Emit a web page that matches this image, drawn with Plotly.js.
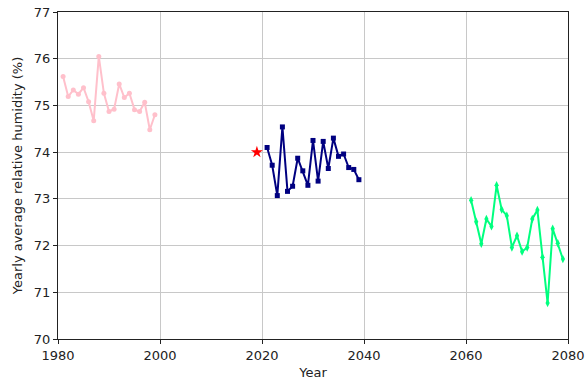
<!DOCTYPE html>
<html>
<head>
<meta charset="utf-8">
<script src="https://cdn.plot.ly/plotly-3.0.1.min.js"></script>
<style>html,body{margin:0;padding:0;background:#fff;}#chart{width:588px;height:385px;}</style>
</head>
<body>
<div id="chart"></div>
<script>
const yearsPast = [1981,1982,1983,1984,1985,1986,1987,1988,1989,1990,1991,1992,1993,1994,1995,1996,1997,1998,1999];
const humPast = [75.62,75.19,75.33,75.24,75.38,75.08,74.67,76.05,75.26,74.87,74.92,75.46,75.17,75.26,74.91,74.87,75.07,74.48,74.80];
const yearsNear = [2021,2022,2023,2024,2025,2026,2027,2028,2029,2030,2031,2032,2033,2034,2035,2036,2037,2038,2039];
const humNear = [74.10,73.72,73.07,74.54,73.16,73.27,73.87,73.60,73.29,74.25,73.38,74.23,73.65,74.30,73.91,73.96,73.67,73.63,73.41];
const yearsFar = [2061,2062,2063,2064,2065,2066,2067,2068,2069,2070,2071,2072,2073,2074,2075,2076,2077,2078,2079];
const humFar = [72.97,72.51,72.04,72.57,72.41,73.29,72.77,72.64,71.96,72.21,71.87,71.96,72.57,72.76,71.75,70.77,72.36,72.05,71.71];
const yearNow = [2019];
const humNow = [74.0];

const traces = [
  {x: yearsPast, y: humPast, mode: 'lines+markers', line: {color: '#ffc0cb', width: 2}, marker: {symbol: 'circle', size: 5, color: '#ffc0cb'}},
  {x: yearsNear, y: humNear, mode: 'lines+markers', line: {color: '#000080', width: 2}, marker: {symbol: 'square', size: 5, color: '#000080'}},
  {x: yearsFar, y: humFar, mode: 'lines+markers', line: {color: '#00ff7f', width: 2}, marker: {symbol: 'diamond-tall', size: 6, color: '#00ff7f'}},
  {x: yearNow, y: humNow, mode: 'markers', marker: {symbol: 'star', size: 9, color: '#ff0000'}}
];

const font = {family: 'DejaVu Sans', size: 13, color: '#222'};
const layout = {
  width: 588, height: 385,
  margin: {l: 58, r: 20, t: 12, b: 46},
  showlegend: false,
  paper_bgcolor: '#fff', plot_bgcolor: '#fff',
  font: font,
  xaxis: {
    range: [1980, 2080], tickvals: [1980,2000,2020,2040,2060,2080],
    showgrid: true, gridcolor: '#c8c8c8', gridwidth: 1,
    showline: true, linecolor: '#222', linewidth: 1, mirror: true,
    ticks: 'outside', ticklen: 4, tickcolor: '#222',
    zeroline: false,
    title: {text: 'Year', font: font, standoff: 6}
  },
  yaxis: {
    range: [70, 77], tickvals: [70,71,72,73,74,75,76,77],
    showgrid: true, gridcolor: '#c8c8c8', gridwidth: 1,
    showline: true, linecolor: '#222', linewidth: 1, mirror: true,
    ticks: 'outside', ticklen: 4, tickcolor: '#222',
    zeroline: false,
    title: {text: 'Yearly average relative humidity (%)', font: font, standoff: 8}
  }
};
Plotly.newPlot('chart', traces, layout, {displayModeBar: false, staticPlot: true});
</script>
</body>
</html>
